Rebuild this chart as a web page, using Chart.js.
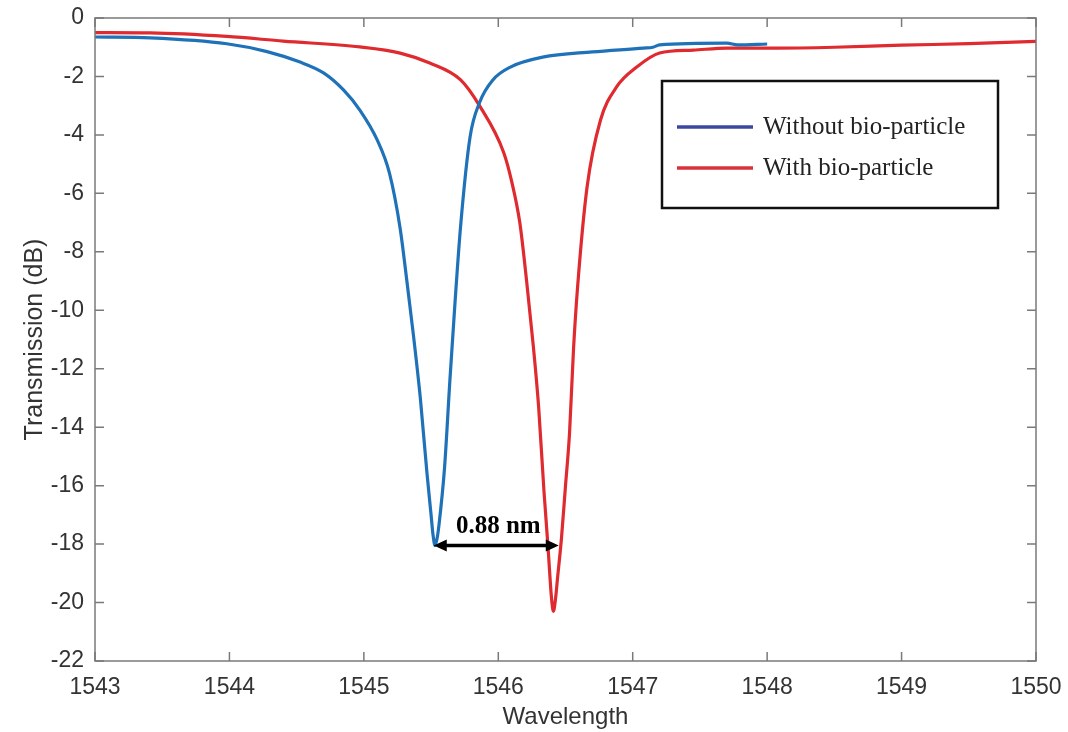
<!DOCTYPE html>
<html>
<head>
<meta charset="utf-8">
<script src="https://cdn.jsdelivr.net/npm/chart.js@4.4.1/dist/chart.umd.min.js"></script>
<style>
  html, body { margin: 0; padding: 0; background: #fff; }
  #wrap { width: 1068px; height: 732px; }
</style>
</head>
<body>
<div id="wrap"><canvas id="chart" width="1068" height="732"></canvas></div>
<script>
// wavelength (nm) / transmission (dB)
const blueWl = [1543.0, 1543.41, 1543.98, 1544.28, 1544.52, 1544.70, 1544.85, 1544.97, 1545.10, 1545.19, 1545.27, 1545.32, 1545.37, 1545.42, 1545.47, 1545.50, 1545.515, 1545.53, 1545.545, 1545.56, 1545.60, 1545.64, 1545.68, 1545.72, 1545.79, 1545.86, 1545.96, 1546.09, 1546.33, 1546.70, 1547.08, 1547.15, 1547.20, 1547.70, 1547.78, 1548.0];
const blueDb = [-0.65, -0.68, -0.88, -1.15, -1.5, -1.88, -2.47, -3.15, -4.18, -5.3, -7.2, -9.0, -10.9, -13.0, -15.6, -17.0, -17.7, -18.05, -17.8, -17.3, -15.4, -12.4, -9.6, -7.1, -4.07, -2.9, -2.12, -1.68, -1.34, -1.16, -1.03, -1.0, -0.92, -0.86, -0.92, -0.89];

const redWl = [1543.0, 1543.41, 1543.98, 1544.40, 1544.97, 1545.27, 1545.49, 1545.72, 1545.86, 1546.04, 1546.10, 1546.16, 1546.21, 1546.26, 1546.30, 1546.34, 1546.37, 1546.395, 1546.41, 1546.425, 1546.44, 1546.47, 1546.50, 1546.53, 1546.56, 1546.59, 1546.66, 1546.76, 1546.88, 1547.03, 1547.20, 1547.45, 1547.70, 1548.07, 1548.5, 1549.0, 1549.5, 1550.0];
const redDb = [-0.5, -0.51, -0.63, -0.79, -0.99, -1.2, -1.54, -2.12, -3.0, -4.6, -5.6, -7.0, -8.97, -11.2, -13.3, -16.2, -18.1, -19.8, -20.3, -19.9, -19.2, -17.8, -16.0, -14.2, -11.3, -9.2, -5.8, -3.5, -2.36, -1.68, -1.2, -1.1, -1.03, -1.03, -1.0, -0.93, -0.88, -0.8];

const xTicks = [1543, 1544, 1545, 1546, 1547, 1548, 1549, 1550];
const yTicks = [0, -2, -4, -6, -8, -10, -12, -14, -16, -18, -20, -22];

const seriesNames = ["Without bio-particle", "With bio-particle"];
const shiftArrow = [1545.52, 1546.45, -18.05]; // from, to, level
const shiftLabel = "0.88 nm";

const BLUE = "#1f72b8";
const RED = "#df2a2f";

const toPoints = (xs, ys) => xs.map((x, i) => ({ x: x, y: ys[i] }));

// box, inward ticks, shift arrow and legend
const decorations = {
	id: "decorations",
	afterDatasetsDraw(chart) {
		const { ctx, chartArea: a, scales } = chart;
		const x = scales.x, y = scales.y;
		ctx.save();
		ctx.strokeStyle = "#7a7a7a";
		ctx.lineWidth = 1.5;
		ctx.strokeRect(a.left, a.top, a.right - a.left, a.bottom - a.top);
		ctx.beginPath();
		xTicks.forEach((v) => {
			const px = x.getPixelForValue(v);
			ctx.moveTo(px, a.bottom); ctx.lineTo(px, a.bottom - 9);
			ctx.moveTo(px, a.top); ctx.lineTo(px, a.top + 9);
		});
		yTicks.forEach((v) => {
			const py = y.getPixelForValue(v);
			ctx.moveTo(a.left, py); ctx.lineTo(a.left + 9, py);
			ctx.moveTo(a.right, py); ctx.lineTo(a.right - 9, py);
		});
		ctx.stroke();

		// double arrow
		const x1 = x.getPixelForValue(shiftArrow[0]);
		const x2 = x.getPixelForValue(shiftArrow[1]);
		const ay = y.getPixelForValue(shiftArrow[2]);
		ctx.strokeStyle = "#000";
		ctx.fillStyle = "#000";
		ctx.lineWidth = 3.5;
		ctx.beginPath();
		ctx.moveTo(x1 + 8, ay); ctx.lineTo(x2 - 8, ay);
		ctx.stroke();
		ctx.beginPath();
		ctx.moveTo(x1, ay); ctx.lineTo(x1 + 13, ay - 6); ctx.lineTo(x1 + 13, ay + 6); ctx.closePath();
		ctx.moveTo(x2, ay); ctx.lineTo(x2 - 13, ay - 6); ctx.lineTo(x2 - 13, ay + 6); ctx.closePath();
		ctx.fill();
		ctx.font = "bold 25px 'Liberation Serif', 'DejaVu Serif', serif";
		ctx.textAlign = "center";
		ctx.textBaseline = "alphabetic";
		ctx.fillText(shiftLabel, (x1 + x2) / 2 + 2, ay - 13);

		// legend box
		const lx = 662, ly = 81, lw = 336, lh = 127;
		ctx.fillStyle = "#fff";
		ctx.fillRect(lx, ly, lw, lh);
		ctx.strokeStyle = "#111";
		ctx.lineWidth = 2.5;
		ctx.strokeRect(lx, ly, lw, lh);
		const legendColors = ["#3b48a0", "#d8333a"];
		ctx.font = "25px 'Liberation Serif', 'DejaVu Serif', serif";
		ctx.textAlign = "left";
		ctx.textBaseline = "middle";
		seriesNames.forEach((name, i) => {
			const rowY = ly + 46 + i * 41;
			ctx.strokeStyle = legendColors[i];
			ctx.lineWidth = 3.5;
			ctx.beginPath();
			ctx.moveTo(lx + 15, rowY); ctx.lineTo(lx + 91, rowY);
			ctx.stroke();
			ctx.fillStyle = "#222";
			ctx.fillText(name, lx + 101, rowY);
		});
		ctx.restore();
	},
};

new Chart(document.getElementById("chart"), {
	type: "line",
	data: {
		datasets: [
			{
				label: seriesNames[0],
				data: toPoints(blueWl, blueDb),
				borderColor: BLUE,
				borderWidth: 3.2,
				pointRadius: 0,
				cubicInterpolationMode: "monotone",
			},
			{
				label: seriesNames[1],
				data: toPoints(redWl, redDb),
				borderColor: RED,
				borderWidth: 3.2,
				pointRadius: 0,
				cubicInterpolationMode: "monotone",
			},
		],
	},
	options: {
		responsive: false,
		animation: false,
		layout: { padding: { top: 18, right: 32, left: 0, bottom: 0 } },
		plugins: {
			legend: { display: false },
			tooltip: { enabled: false },
		},
		scales: {
			x: {
				type: "linear",
				min: 1543,
				max: 1550,
				afterFit: (scale) => { scale.height = 71; },
				afterBuildTicks: (scale) => { scale.ticks = xTicks.map((v) => ({ value: v })); },
				grid: { display: false },
				border: { display: false },
				ticks: {
					color: "#333",
					font: { family: "'Liberation Sans', Arial, sans-serif", size: 23 },
					padding: 5,
					maxRotation: 0,
					callback: (v) => String(v),
				},
				title: {
					display: true,
					text: "Wavelength",
					color: "#333",
					font: { family: "'Liberation Sans', Arial, sans-serif", size: 24 },
					padding: { top: 0, bottom: 0 },
				},
			},
			y: {
				type: "linear",
				min: -22,
				max: 0,
				afterFit: (scale) => { scale.width = 95; },
				afterBuildTicks: (scale) => { scale.ticks = yTicks.map((v) => ({ value: v })); },
				grid: { display: false },
				border: { display: false },
				ticks: {
					color: "#333",
					font: { family: "'Liberation Sans', Arial, sans-serif", size: 23 },
					padding: 3,
				},
				title: {
					display: true,
					text: "Transmission (dB)",
					color: "#333",
					font: { family: "'Liberation Sans', Arial, sans-serif", size: 25 },
					padding: { top: 20, bottom: 0 },
				},
			},
		},
	},
	plugins: [decorations],
});
</script>
</body>
</html>
